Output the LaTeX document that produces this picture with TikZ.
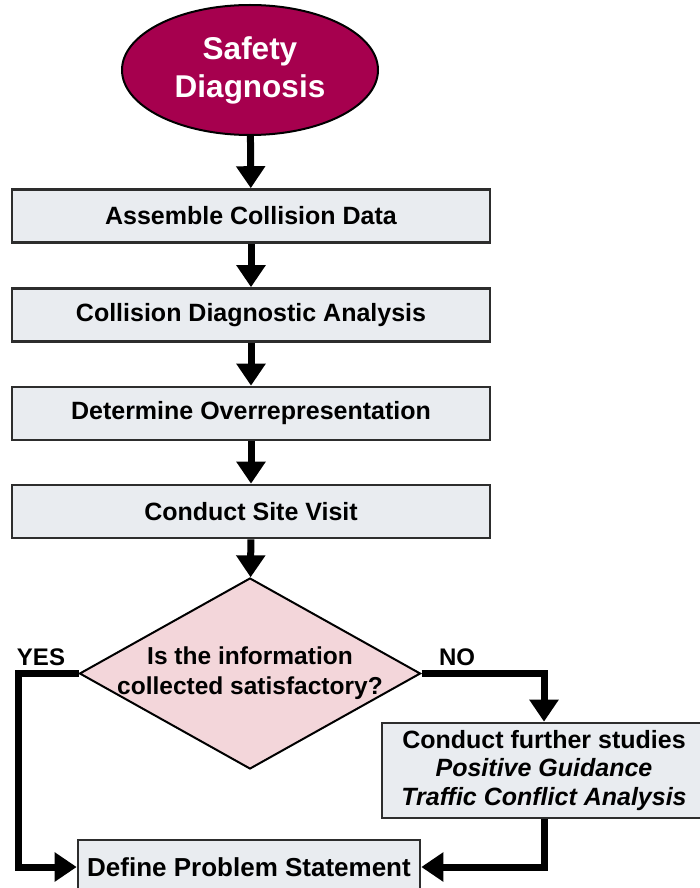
\documentclass[tikz,border=0pt]{standalone}
\usepackage{fontspec}
\setmainfont{Liberation Sans}
\usetikzlibrary{shapes.geometric,arrows.meta}
\definecolor{magentadk}{RGB}{166,0,78}
\definecolor{boxfill}{RGB}{233,236,240}
\definecolor{boxline}{RGB}{45,45,45}
\definecolor{diafill}{RGB}{243,214,218}
\tikzset{
  stepbox/.style={draw=boxline, line width=2.6pt, fill=boxfill, minimum width=478pt, minimum height=53pt, inner sep=0pt,
    font=\bfseries\fontsize{25}{28}\selectfont},
  flowarrow/.style={line width=7pt, line join=miter, -{Triangle[width=28pt,length=22pt]}},
  startnode/.style={ellipse, draw=black, line width=2pt, fill=magentadk, text=white, minimum width=256pt, minimum height=130pt, inner sep=0pt,
    align=center, font=\bfseries\fontsize{31.5}{38}\selectfont},
  decision/.style={diamond, draw=black, line width=2pt, fill=diafill, minimum width=341pt, minimum height=191pt, inner sep=0pt},
  lbl/.style={font=\bfseries\fontsize{24}{28}\selectfont, inner sep=0pt}
}
\begin{document}
\begin{tikzpicture}[x=1pt,y=-1pt]
\useasboundingbox (0,0) rectangle (700,888);
\clip (0,0) rectangle (700,888);
\fill[white] (0,0) rectangle (700,888);
\node[startnode] (sd) at (250,70) {Safety\\Diagnosis};
\node[stepbox] (b1) at (251,216) {Assemble Collision Data};
\node[stepbox] (b2) at (251,315) {Collision Diagnostic Analysis};
\node[stepbox] (b3) at (251,413.5) {Determine Overrepresentation};
\node[stepbox] (b4) at (251,511.5) {Conduct Site Visit};
\node[decision, label={[lbl, align=center, font=\bfseries\fontsize{24.5}{30}\selectfont]center:Is the information\\collected satisfactory?}] (dia) at (250,673.5) {};
\node[stepbox, minimum width=324pt, minimum height=95pt, align=center, font=\bfseries\fontsize{25}{28.5}\selectfont] (cfs) at (544,770.5) {Conduct further studies\\\itshape Positive Guidance\\\itshape Traffic Conflict Analysis};
\node[stepbox, minimum width=342pt, minimum height=54pt, font=\bfseries\fontsize{26}{28}\selectfont] (def) at (249,867) {Define Problem Statement};
\node[lbl] (yes) at (41,657) {YES};
\node[lbl] (no) at (457,657) {NO};
\coordinate (yl) at (18,673.5);
\draw[flowarrow] (sd) -- (b1);
\draw[flowarrow] (b1) -- (b2);
\draw[flowarrow] (b2) -- (b3);
\draw[flowarrow] (b3) -- (b4);
\draw[flowarrow] (b4) -- (dia);
\draw[flowarrow] (dia.west) -- (yl) |- (def.west);
\draw[flowarrow] (dia.east) -| (cfs.north);
\draw[flowarrow] (cfs.south) |- (def.east);
\end{tikzpicture}
\end{document}
